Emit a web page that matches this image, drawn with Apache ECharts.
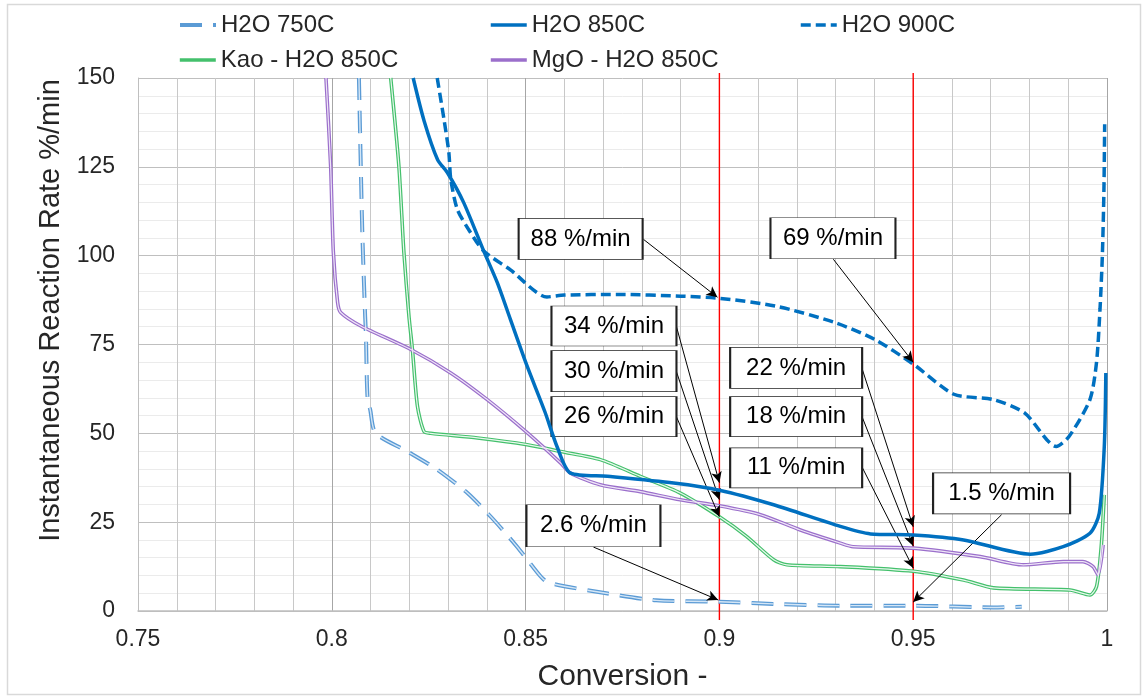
<!DOCTYPE html>
<html>
<head>
<meta charset="utf-8">
<script src="https://cdn.jsdelivr.net/npm/echarts@6/dist/echarts.min.js"></script>
<style>
  html, body { margin:0; padding:0; background:#fff; }
  #chart { width:1146px; height:697px; }
</style>
</head>
<body>
<div id="chart"></div>
<script>
// ---------- data ----------
const xTickLabels = ['0.75', '0.8', '0.85', '0.9', '0.95', '1'];
const yTickLabels = ['0', '25', '50', '75', '100', '125', '150'];

const h2o750 = [
  [0.8070,150],[0.8075,124],[0.8079,105.5],[0.8086,83],[0.8088,78],[0.8092,60.4],[0.8099,56.7],
  [0.8113,50.1],[0.8195,44.9],[0.8272,39.8],[0.8350,33.2],[0.8414,26.1],[0.8478,18.1],[0.8539,9.7],
  [0.8560,7.9],[0.8708,5.0],[0.8837,3.0],[0.9000,2.6],[0.9138,2.0],[0.9312,1.5],[0.9500,1.5],
  [0.9707,1.0],[0.9780,1.2]
];
const h2o850 = [
  [0.8210,150],[0.8238,138],[0.8273,127],[0.8298,123.4],[0.8340,115],[0.8392,101.3],[0.8427,92.4],
  [0.8461,82],[0.8504,68.9],[0.8550,56],[0.8581,46.3],[0.8616,38.8],[0.8711,37.9],[0.8882,36],
  [0.9000,34],[0.9140,29.9],[0.9312,23.8],[0.9390,21.7],[0.9500,21.4],[0.9630,20],[0.9802,16],
  [0.9887,18.1],[0.9956,21.9],[0.9980,27.5],[0.9993,46.3],[0.9997,67]
];
const h2o900 = [
  [0.8272,150],[0.8290,138],[0.8302,129],[0.8307,121.5],[0.8324,113],[0.8358,106.5],[0.8392,101.3],
  [0.8461,96],[0.8555,88.4],[0.8600,88.9],[0.8739,89.1],[0.8900,88.6],[0.9000,88],[0.9146,85.8],
  [0.9300,81.1],[0.9401,76.4],[0.9500,69.5],[0.9605,61],[0.9707,59.5],[0.9788,55.7],[0.9869,46.3],
  [0.9902,49.1],[0.9956,59.5],[0.9973,70],[0.9982,85],[0.9988,100],[0.9992,118],[0.9994,137]
];
const kao850 = [
  [0.8152,150],[0.8173,125.3],[0.8186,100.9],[0.8199,83],[0.8208,73.6],[0.8221,57.6],[0.8238,50.5],
  [0.8255,50],[0.8376,48.7],[0.8504,46.8],[0.8590,44.9],[0.8693,42.6],[0.8796,37.9],[0.8899,33.2],
  [0.9000,26.5],[0.9070,21],[0.9140,14.4],[0.9174,13],[0.9312,12.5],[0.9500,11.2],[0.9630,8.7],
  [0.9707,6.5],[0.9905,5.9],[0.9956,4.5],[0.9973,6.9],[0.9985,18],[0.9993,32.7]
];
const mgo850 = [
  [0.7985,150],[0.7997,125.3],[0.8004,101],[0.8015,86.8],[0.8023,84],[0.8075,80.2],[0.8204,73.6],
  [0.8307,67],[0.8401,59.5],[0.8504,50.2],[0.8590,41.7],[0.8616,38.8],[0.8693,35.5],[0.8796,33.6],
  [0.8899,31.3],[0.9000,29.6],[0.9106,27.1],[0.9209,22.8],[0.9312,19.1],[0.9345,18.1],[0.9500,17.7],
  [0.9673,15.3],[0.9784,13],[0.9887,13.9],[0.9938,13.9],[0.9964,12.5],[0.9977,10.2],[0.9990,18.6]
];

// reference conversions (red vertical lines)
const refLines = [0.9, 0.95];

// callouts: label, tip (data), tail (data), box centre (data)
const calloutText = ['88 %/min','69 %/min','34 %/min','30 %/min','26 %/min','22 %/min','18 %/min','11 %/min','1.5 %/min','2.6 %/min'];
const calloutTip  = [[0.8995,88.3],[0.95,70],[0.9,36.1],[0.9,31.3],[0.9,26.5],[0.95,23.7],[0.95,18.3],[0.95,12.1],[0.95,2.5],[0.8997,3.1]];
const calloutTail = [[0.8804,104.6],[0.9294,99],[0.8889,80.1],[0.8889,67.4],[0.8889,54.7],[0.9369,67.9],[0.9369,54.4],[0.9369,40.3],[0.9728,27.1],[0.8675,18]];
const calloutBox  = [[0.8642,104.7],[0.9293,104.9],[0.8728,80.2],[0.8728,67.5],[0.8728,54.7],[0.9198,68.4],[0.9198,54.7],[0.9198,40.3],[0.9728,33.1],[0.8675,24.0]];

// ---------- layout / style ----------
const FONT = "'Liberation Sans', Arial, sans-serif";
const TXT = '#262626';
const boxSize = [[124,41],[125,41],[125,40],[125,41],[125,40],[132,41],[132,40],[132,40],[137,41],[134,42]];

const chart = echarts.init(document.getElementById('chart'), null, {renderer:'canvas'});

function lineSeries(name, data, color, width, type, z) {
  return {
    name, type:'line', data, symbol:'none', smooth:0.25, z: z || 2,
    lineStyle:{color, width, type}, itemStyle:{color}, emphasis:{disabled:true}, silent:true
  };
}

const series = [
  ...refLines.map((x, i) => ({
    name:'_ref' + i, type:'line', data:[[x,-2.5],[x,151.4]], symbol:'none', clip:false, z:1,
    lineStyle:{color:'#ff0000', width:1.4}, silent:true, emphasis:{disabled:true}
  })),
  lineSeries('H2O 750C', h2o750, '#5b9bd5', 4, [22,11], 2),
  lineSeries('_750in', h2o750, '#d4e6f6', 1.4, [22,11], 3),
  lineSeries('H2O 900C', h2o900, '#0070c0', 3.5, [10,5], 4),
  lineSeries('Kao - H2O 850C', kao850, '#44c06c', 3.6, 'solid', 2),
  lineSeries('_kaoin', kao850, '#e9f8ee', 1.2, 'solid', 3),
  lineSeries('MgO - H2O 850C', mgo850, '#9b6fcb', 3.6, 'solid', 2),
  lineSeries('_mgoin', mgo850, '#eee6f7', 1.2, 'solid', 3),
  lineSeries('H2O 850C', h2o850, '#0070c0', 3.5, 'solid', 5),
  {
    name:'_annot', type:'line', data:[], z:10, clip:false, silent:true,
    markLine:{
      silent:true, animation:false, symbol:['none','arrow'], symbolSize:[8,11],
      label:{show:false}, emphasis:{disabled:true},
      lineStyle:{color:'#000', width:1, type:'solid'},
      data: calloutTip.map((tip,i) => [{coord:calloutTail[i]}, {coord:tip}])
    },
    markPoint:{
      silent:true, animation:false,
      data: calloutText.map((t,i) => ({
        name:t, coord:calloutBox[i], symbol:'rect', symbolSize:boxSize[i],
        itemStyle:{color:'#ffffff', borderColor:'#222', borderWidth:1.2},
        label:{show:true, position:'inside', formatter:'{b}', color:'#000', fontSize:24, fontFamily:FONT}
      }))
    }
  }
];

const legendCommon = {
  padding:0, itemWidth:36, itemHeight:14, itemGap:10, selectedMode:false,
  itemStyle:{color:'rgba(0,0,0,0)', borderColor:'rgba(0,0,0,0)', borderWidth:0, opacity:0},
  textStyle:{fontSize:24, color:TXT, fontFamily:FONT}
};
function legendItem(name, width, left, top) {
  return Object.assign({}, legendCommon, {
    data:[{name, lineStyle:{width}}], left, top
  });
}

chart.setOption({
  animation:false,
  textStyle:{fontFamily:FONT},
  graphic:[{type:'rect', shape:{x:7.5, y:4.5, width:1133, height:690},
            style:{fill:'none', stroke:'#d9d9d9', lineWidth:1.5}, silent:true, z:-1}],
  legend:[
    legendItem('H2O 750C', 4, 178, 13),
    legendItem('H2O 850C', 3.5, 489, 13),
    legendItem('H2O 900C', 3.5, 799, 13),
    legendItem('Kao - H2O 850C', 3.6, 178, 48),
    legendItem('MgO - H2O 850C', 3.6, 489, 48)
  ],
  grid:{left:138, right:39, top:78, bottom:86, containLabel:false},
  xAxis:{
    type:'value', min:0.75, max:1, interval:0.05,
    axisLine:{show:true, onZero:false, lineStyle:{color:'#bfbfbf', width:1.5}},
    axisTick:{show:false},
    minorTick:{show:false, splitNumber:5},
    splitLine:{show:true, lineStyle:{color:'#a6a6a6', width:1}},
    minorSplitLine:{show:true, lineStyle:{color:'#c8c8c8', width:1}},
    axisLabel:{fontSize:23, color:TXT, margin:17,
      formatter:v => xTickLabels[Math.round((v-0.75)/0.05)]},
    name:'Conversion -', nameLocation:'middle', nameGap:51,
    nameTextStyle:{fontSize:30, color:TXT, fontFamily:FONT}
  },
  yAxis:{
    type:'value', min:0, max:150, interval:25,
    axisLine:{show:true, lineStyle:{color:'#bfbfbf', width:1}},
    axisTick:{show:false},
    minorTick:{show:false, splitNumber:5},
    splitLine:{show:true, lineStyle:{color:'#bfbfbf', width:1}},
    minorSplitLine:{show:true, lineStyle:{color:'#ebebeb', width:1}},
    axisLabel:{fontSize:23, color:TXT, margin:23,
      formatter:v => yTickLabels[Math.round(v/25)]},
    name:'Instantaneous Reaction Rate %/min', nameLocation:'middle', nameGap:71,
    nameTextStyle:{fontSize:29, color:TXT, fontFamily:FONT, padding:[0,0,0,68]}
  },
  series
});
</script>
</body>
</html>
